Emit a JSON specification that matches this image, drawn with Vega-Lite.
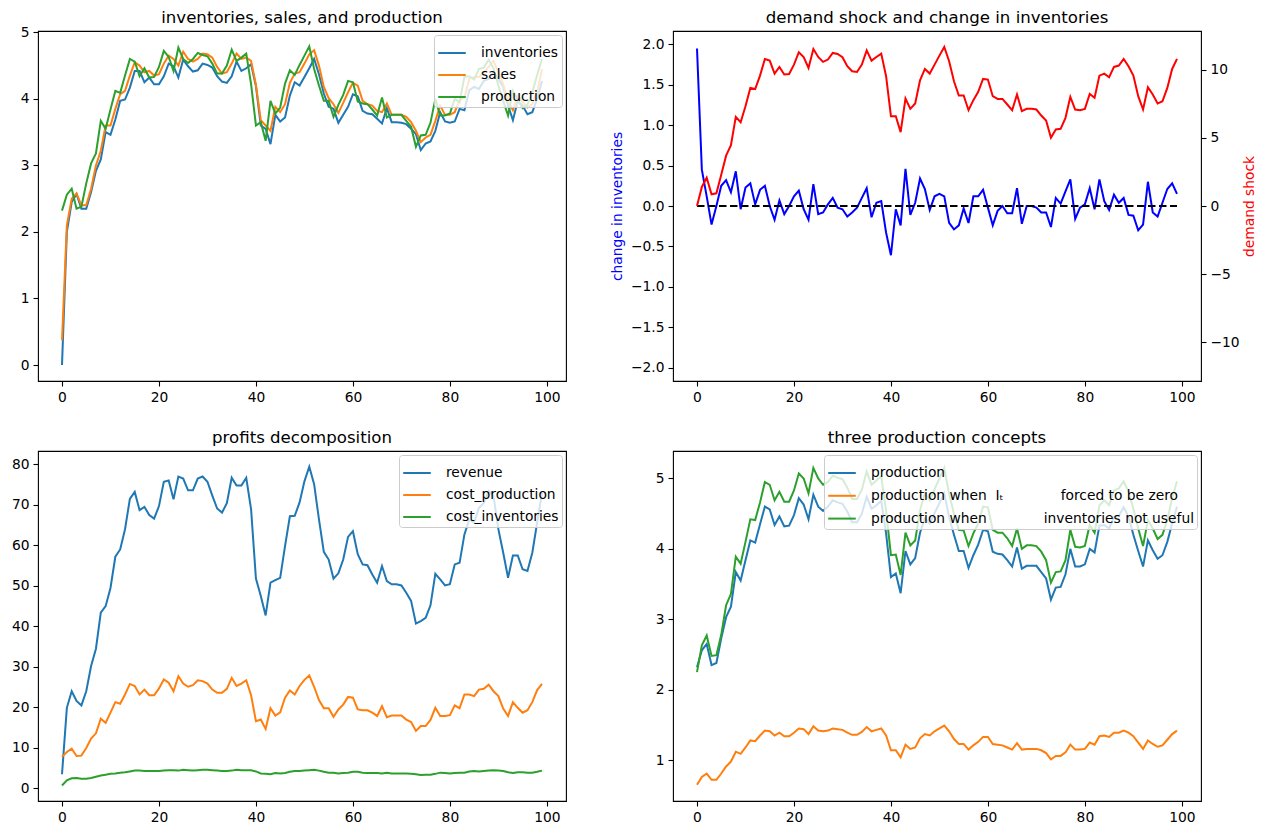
{
"$schema": "https://vega.github.io/schema/vega-lite/v6.json",
"background": "white",
"padding": {"left": 10, "top": 9, "right": 8, "bottom": 0},
"bounds": "flush",
"columns": 2,
"spacing": {"row": 70, "column": 107},
"resolve": {"scale": {"color": "independent"}, "legend": {"color": "independent"}},
"data": {"values": [
{"t":0,"inventories":0,"sales":0.37,"production":2.32,"dI":1.95,"shock":0,"revenue":3.5,"cost_production":7.8,"cost_inventories":0.74,"prod_zero":0.65,"prod_nouse":2.25},
{"t":1,"inventories":2.0,"sales":2.1,"production":2.56,"dI":0.45,"shock":1.4,"revenue":19.9,"cost_production":9.0,"cost_inventories":2.0,"prod_zero":0.76,"prod_nouse":2.63},
{"t":2,"inventories":2.45,"sales":2.5,"production":2.65,"dI":0.12,"shock":2.08,"revenue":24.0,"cost_production":9.8,"cost_inventories":2.5,"prod_zero":0.81,"prod_nouse":2.77},
{"t":3,"inventories":2.57,"sales":2.58,"production":2.35,"dI":-0.23,"shock":0.86,"revenue":21.6,"cost_production":8.0,"cost_inventories":2.6,"prod_zero":0.72,"prod_nouse":2.48},
{"t":4,"inventories":2.35,"sales":2.4,"production":2.38,"dI":0.0,"shock":0.93,"revenue":20.5,"cost_production":8.1,"cost_inventories":2.4,"prod_zero":0.72,"prod_nouse":2.49},
{"t":5,"inventories":2.35,"sales":2.4,"production":2.73,"dI":0.25,"shock":2.3,"revenue":24.0,"cost_production":10.0,"cost_inventories":2.4,"prod_zero":0.81,"prod_nouse":2.78},
{"t":6,"inventories":2.6,"sales":2.65,"production":3.03,"dI":0.32,"shock":3.7,"revenue":30.2,"cost_production":12.3,"cost_inventories":2.6,"prod_zero":0.91,"prod_nouse":3.2},
{"t":7,"inventories":2.92,"sales":3.0,"production":3.18,"dI":0.17,"shock":4.47,"revenue":34.5,"cost_production":13.6,"cost_inventories":2.9,"prod_zero":0.98,"prod_nouse":3.36},
{"t":8,"inventories":3.09,"sales":3.22,"production":3.67,"dI":0.43,"shock":6.55,"revenue":43.4,"cost_production":17.2,"cost_inventories":3.2,"prod_zero":1.12,"prod_nouse":3.89},
{"t":9,"inventories":3.5,"sales":3.6,"production":3.55,"dI":-0.04,"shock":6.16,"revenue":45.0,"cost_production":16.2,"cost_inventories":3.4,"prod_zero":1.09,"prod_nouse":3.79},
{"t":10,"inventories":3.46,"sales":3.6,"production":3.84,"dI":0.23,"shock":7.33,"revenue":49.5,"cost_production":18.7,"cost_inventories":3.6,"prod_zero":1.18,"prod_nouse":4.1},
{"t":11,"inventories":3.69,"sales":3.85,"production":4.12,"dI":0.28,"shock":8.68,"revenue":57.2,"cost_production":21.3,"cost_inventories":3.7,"prod_zero":1.28,"prod_nouse":4.42},
{"t":12,"inventories":3.97,"sales":4.07,"production":4.09,"dI":0.02,"shock":8.6,"revenue":59.0,"cost_production":20.9,"cost_inventories":3.9,"prod_zero":1.27,"prod_nouse":4.41},
{"t":13,"inventories":3.99,"sales":4.12,"production":4.35,"dI":0.2,"shock":9.58,"revenue":64.0,"cost_production":23.2,"cost_inventories":4.0,"prod_zero":1.35,"prod_nouse":4.66},
{"t":14,"inventories":4.17,"sales":4.35,"production":4.6,"dI":0.25,"shock":10.8,"revenue":71.5,"cost_production":25.8,"cost_inventories":4.2,"prod_zero":1.42,"prod_nouse":4.95},
{"t":15,"inventories":4.42,"sales":4.55,"production":4.56,"dI":0.0,"shock":10.68,"revenue":73.2,"cost_production":25.3,"cost_inventories":4.4,"prod_zero":1.41,"prod_nouse":4.91},
{"t":16,"inventories":4.42,"sales":4.5,"production":4.34,"dI":-0.17,"shock":9.73,"revenue":68.7,"cost_production":23.2,"cost_inventories":4.4,"prod_zero":1.35,"prod_nouse":4.69},
{"t":17,"inventories":4.25,"sales":4.4,"production":4.46,"dI":0.07,"shock":10.22,"revenue":69.5,"cost_production":24.4,"cost_inventories":4.3,"prod_zero":1.39,"prod_nouse":4.81},
{"t":18,"inventories":4.32,"sales":4.42,"production":4.32,"dI":-0.1,"shock":9.66,"revenue":67.5,"cost_production":23.0,"cost_inventories":4.3,"prod_zero":1.34,"prod_nouse":4.67},
{"t":19,"inventories":4.22,"sales":4.35,"production":4.33,"dI":0.0,"shock":9.7,"revenue":66.6,"cost_production":23.0,"cost_inventories":4.3,"prod_zero":1.34,"prod_nouse":4.67},
{"t":20,"inventories":4.22,"sales":4.37,"production":4.48,"dI":0.12,"shock":10.39,"revenue":69.7,"cost_production":24.7,"cost_inventories":4.3,"prod_zero":1.39,"prod_nouse":4.83},
{"t":21,"inventories":4.34,"sales":4.53,"production":4.72,"dI":0.19,"shock":11.3,"revenue":75.7,"cost_production":26.9,"cost_inventories":4.4,"prod_zero":1.45,"prod_nouse":5.07},
{"t":22,"inventories":4.53,"sales":4.65,"production":4.63,"dI":-0.04,"shock":10.95,"revenue":76.0,"cost_production":26.1,"cost_inventories":4.5,"prod_zero":1.44,"prod_nouse":5.0},
{"t":23,"inventories":4.49,"sales":4.6,"production":4.42,"dI":-0.17,"shock":10.15,"revenue":71.4,"cost_production":24.0,"cost_inventories":4.5,"prod_zero":1.37,"prod_nouse":4.79},
{"t":24,"inventories":4.32,"sales":4.5,"production":4.77,"dI":0.27,"shock":11.54,"revenue":77.0,"cost_production":27.7,"cost_inventories":4.4,"prod_zero":1.48,"prod_nouse":5.15},
{"t":25,"inventories":4.59,"sales":4.71,"production":4.6,"dI":-0.1,"shock":10.95,"revenue":76.5,"cost_production":25.9,"cost_inventories":4.6,"prod_zero":1.42,"prod_nouse":5.0},
{"t":26,"inventories":4.49,"sales":4.6,"production":4.54,"dI":-0.08,"shock":10.59,"revenue":73.6,"cost_production":25.1,"cost_inventories":4.5,"prod_zero":1.41,"prod_nouse":4.91},
{"t":27,"inventories":4.41,"sales":4.56,"production":4.6,"dI":0.02,"shock":10.76,"revenue":73.6,"cost_production":25.5,"cost_inventories":4.4,"prod_zero":1.42,"prod_nouse":4.95},
{"t":28,"inventories":4.43,"sales":4.6,"production":4.69,"dI":0.1,"shock":11.25,"revenue":76.5,"cost_production":26.7,"cost_inventories":4.5,"prod_zero":1.45,"prod_nouse":5.04},
{"t":29,"inventories":4.53,"sales":4.68,"production":4.66,"dI":-0.02,"shock":11.17,"revenue":77.0,"cost_production":26.5,"cost_inventories":4.6,"prod_zero":1.44,"prod_nouse":5.01},
{"t":30,"inventories":4.51,"sales":4.67,"production":4.64,"dI":-0.04,"shock":10.93,"revenue":75.7,"cost_production":25.9,"cost_inventories":4.6,"prod_zero":1.43,"prod_nouse":4.99},
{"t":31,"inventories":4.47,"sales":4.62,"production":4.53,"dI":-0.13,"shock":10.27,"revenue":72.3,"cost_production":24.4,"cost_inventories":4.5,"prod_zero":1.39,"prod_nouse":4.87},
{"t":32,"inventories":4.34,"sales":4.48,"production":4.38,"dI":-0.08,"shock":9.9,"revenue":69.1,"cost_production":23.6,"cost_inventories":4.4,"prod_zero":1.36,"prod_nouse":4.71},
{"t":33,"inventories":4.26,"sales":4.38,"production":4.38,"dI":-0.02,"shock":9.85,"revenue":68.1,"cost_production":23.6,"cost_inventories":4.3,"prod_zero":1.36,"prod_nouse":4.71},
{"t":34,"inventories":4.24,"sales":4.4,"production":4.5,"dI":0.1,"shock":10.39,"revenue":70.4,"cost_production":24.6,"cost_inventories":4.3,"prod_zero":1.4,"prod_nouse":4.84},
{"t":35,"inventories":4.34,"sales":4.53,"production":4.74,"dI":0.22,"shock":11.44,"revenue":76.7,"cost_production":27.3,"cost_inventories":4.4,"prod_zero":1.47,"prod_nouse":5.1},
{"t":36,"inventories":4.56,"sales":4.68,"production":4.57,"dI":-0.14,"shock":10.68,"revenue":74.8,"cost_production":25.3,"cost_inventories":4.6,"prod_zero":1.41,"prod_nouse":4.91},
{"t":37,"inventories":4.42,"sales":4.6,"production":4.62,"dI":0.04,"shock":10.95,"revenue":74.8,"cost_production":25.9,"cost_inventories":4.5,"prod_zero":1.43,"prod_nouse":4.97},
{"t":38,"inventories":4.46,"sales":4.62,"production":4.68,"dI":0.06,"shock":11.2,"revenue":76.7,"cost_production":26.7,"cost_inventories":4.5,"prod_zero":1.45,"prod_nouse":5.03},
{"t":39,"inventories":4.52,"sales":4.57,"production":4.22,"dI":-0.33,"shock":9.54,"revenue":68.9,"cost_production":23.0,"cost_inventories":4.5,"prod_zero":1.35,"prod_nouse":4.54},
{"t":40,"inventories":4.19,"sales":4.21,"production":3.6,"dI":-0.61,"shock":6.6,"revenue":51.8,"cost_production":16.6,"cost_inventories":4.2,"prod_zero":1.14,"prod_nouse":3.91},
{"t":41,"inventories":3.6,"sales":3.68,"production":3.65,"dI":-0.04,"shock":6.6,"revenue":47.5,"cost_production":17.0,"cost_inventories":3.7,"prod_zero":1.14,"prod_nouse":3.92},
{"t":42,"inventories":3.55,"sales":3.6,"production":3.37,"dI":-0.24,"shock":5.43,"revenue":42.7,"cost_production":14.7,"cost_inventories":3.6,"prod_zero":1.04,"prod_nouse":3.63},
{"t":43,"inventories":3.32,"sales":3.52,"production":3.97,"dI":0.46,"shock":7.9,"revenue":50.8,"cost_production":19.8,"cost_inventories":3.5,"prod_zero":1.22,"prod_nouse":4.23},
{"t":44,"inventories":3.76,"sales":3.88,"production":3.78,"dI":-0.11,"shock":7.14,"revenue":51.4,"cost_production":18.0,"cost_inventories":3.8,"prod_zero":1.16,"prod_nouse":4.05},
{"t":45,"inventories":3.66,"sales":3.8,"production":3.87,"dI":0.04,"shock":7.53,"revenue":52.0,"cost_production":18.8,"cost_inventories":3.7,"prod_zero":1.18,"prod_nouse":4.12},
{"t":46,"inventories":3.72,"sales":3.92,"production":4.23,"dI":0.34,"shock":9.24,"revenue":59.8,"cost_production":22.4,"cost_inventories":3.8,"prod_zero":1.31,"prod_nouse":4.55},
{"t":47,"inventories":4.05,"sales":4.24,"production":4.43,"dI":0.21,"shock":10.07,"revenue":67.2,"cost_production":24.2,"cost_inventories":4.1,"prod_zero":1.37,"prod_nouse":4.79},
{"t":48,"inventories":4.25,"sales":4.38,"production":4.36,"dI":-0.05,"shock":9.73,"revenue":67.3,"cost_production":23.2,"cost_inventories":4.3,"prod_zero":1.35,"prod_nouse":4.69},
{"t":49,"inventories":4.2,"sales":4.4,"production":4.51,"dI":0.12,"shock":10.39,"revenue":70.6,"cost_production":25.3,"cost_inventories":4.3,"prod_zero":1.41,"prod_nouse":4.85},
{"t":50,"inventories":4.33,"sales":4.53,"production":4.65,"dI":0.15,"shock":11.05,"revenue":75.8,"cost_production":26.8,"cost_inventories":4.4,"prod_zero":1.45,"prod_nouse":5.0},
{"t":51,"inventories":4.46,"sales":4.67,"production":4.79,"dI":0.12,"shock":11.69,"revenue":79.4,"cost_production":27.9,"cost_inventories":4.5,"prod_zero":1.49,"prod_nouse":5.15},
{"t":52,"inventories":4.6,"sales":4.73,"production":4.45,"dI":-0.21,"shock":10.64,"revenue":75.1,"cost_production":25.1,"cost_inventories":4.6,"prod_zero":1.41,"prod_nouse":4.78},
{"t":53,"inventories":4.37,"sales":4.5,"production":4.2,"dI":-0.29,"shock":9.17,"revenue":66.4,"cost_production":21.8,"cost_inventories":4.4,"prod_zero":1.3,"prod_nouse":4.5},
{"t":54,"inventories":4.08,"sales":4.18,"production":3.97,"dI":-0.24,"shock":8.12,"revenue":58.4,"cost_production":19.8,"cost_inventories":4.1,"prod_zero":1.23,"prod_nouse":4.27},
{"t":55,"inventories":3.88,"sales":4.01,"production":3.97,"dI":-0.03,"shock":8.12,"revenue":56.5,"cost_production":19.8,"cost_inventories":3.9,"prod_zero":1.23,"prod_nouse":4.26},
{"t":56,"inventories":3.85,"sales":3.92,"production":3.73,"dI":-0.21,"shock":7.04,"revenue":51.8,"cost_production":17.7,"cost_inventories":3.9,"prod_zero":1.15,"prod_nouse":4.04},
{"t":57,"inventories":3.64,"sales":3.79,"production":3.91,"dI":0.12,"shock":7.78,"revenue":53.1,"cost_production":19.5,"cost_inventories":3.7,"prod_zero":1.21,"prod_nouse":4.22},
{"t":58,"inventories":3.76,"sales":3.94,"production":4.06,"dI":0.12,"shock":8.39,"revenue":56.5,"cost_production":20.7,"cost_inventories":3.8,"prod_zero":1.26,"prod_nouse":4.36},
{"t":59,"inventories":3.88,"sales":4.1,"production":4.27,"dI":0.2,"shock":9.34,"revenue":62.1,"cost_production":22.6,"cost_inventories":3.9,"prod_zero":1.33,"prod_nouse":4.6},
{"t":60,"inventories":4.07,"sales":4.24,"production":4.25,"dI":-0.02,"shock":9.29,"revenue":63.5,"cost_production":22.4,"cost_inventories":4.1,"prod_zero":1.33,"prod_nouse":4.59},
{"t":61,"inventories":4.04,"sales":4.2,"production":3.96,"dI":-0.24,"shock":8.07,"revenue":57.8,"cost_production":19.5,"cost_inventories":4.1,"prod_zero":1.23,"prod_nouse":4.27},
{"t":62,"inventories":3.82,"sales":3.97,"production":3.93,"dI":-0.06,"shock":7.87,"revenue":55.3,"cost_production":19.3,"cost_inventories":3.9,"prod_zero":1.22,"prod_nouse":4.23},
{"t":63,"inventories":3.78,"sales":3.92,"production":3.92,"dI":0.0,"shock":7.87,"revenue":55.1,"cost_production":19.3,"cost_inventories":3.8,"prod_zero":1.21,"prod_nouse":4.23},
{"t":64,"inventories":3.77,"sales":3.9,"production":3.84,"dI":-0.09,"shock":7.46,"revenue":52.8,"cost_production":18.7,"cost_inventories":3.8,"prod_zero":1.18,"prod_nouse":4.15},
{"t":65,"inventories":3.7,"sales":3.82,"production":3.75,"dI":-0.09,"shock":7.04,"revenue":50.8,"cost_production":17.9,"cost_inventories":3.8,"prod_zero":1.15,"prod_nouse":4.04},
{"t":66,"inventories":3.63,"sales":3.8,"production":4.02,"dI":0.22,"shock":8.19,"revenue":54.9,"cost_production":20.3,"cost_inventories":3.7,"prod_zero":1.24,"prod_nouse":4.29},
{"t":67,"inventories":3.86,"sales":3.93,"production":3.72,"dI":-0.22,"shock":6.97,"revenue":51.2,"cost_production":17.6,"cost_inventories":3.9,"prod_zero":1.15,"prod_nouse":4.0},
{"t":68,"inventories":3.65,"sales":3.76,"production":3.76,"dI":0.0,"shock":7.14,"revenue":50.4,"cost_production":18.0,"cost_inventories":3.7,"prod_zero":1.16,"prod_nouse":4.05},
{"t":69,"inventories":3.65,"sales":3.76,"production":3.76,"dI":0.0,"shock":7.14,"revenue":50.4,"cost_production":18.0,"cost_inventories":3.7,"prod_zero":1.16,"prod_nouse":4.05},
{"t":70,"inventories":3.64,"sales":3.76,"production":3.76,"dI":-0.02,"shock":7.09,"revenue":50.1,"cost_production":18.0,"cost_inventories":3.7,"prod_zero":1.16,"prod_nouse":4.04},
{"t":71,"inventories":3.62,"sales":3.73,"production":3.67,"dI":-0.08,"shock":6.65,"revenue":48.3,"cost_production":17.0,"cost_inventories":3.7,"prod_zero":1.14,"prod_nouse":3.96},
{"t":72,"inventories":3.55,"sales":3.65,"production":3.58,"dI":-0.08,"shock":6.28,"revenue":46.3,"cost_production":16.4,"cost_inventories":3.6,"prod_zero":1.1,"prod_nouse":3.84},
{"t":73,"inventories":3.47,"sales":3.52,"production":3.28,"dI":-0.26,"shock":5.01,"revenue":40.7,"cost_production":14.2,"cost_inventories":3.5,"prod_zero":1.01,"prod_nouse":3.52},
{"t":74,"inventories":3.23,"sales":3.35,"production":3.45,"dI":0.1,"shock":5.62,"revenue":41.3,"cost_production":15.4,"cost_inventories":3.3,"prod_zero":1.06,"prod_nouse":3.67},
{"t":75,"inventories":3.33,"sales":3.42,"production":3.46,"dI":0.03,"shock":5.67,"revenue":42.1,"cost_production":15.4,"cost_inventories":3.4,"prod_zero":1.06,"prod_nouse":3.68},
{"t":76,"inventories":3.36,"sales":3.46,"production":3.64,"dI":0.18,"shock":6.48,"revenue":45.2,"cost_production":16.9,"cost_inventories":3.4,"prod_zero":1.11,"prod_nouse":3.84},
{"t":77,"inventories":3.52,"sales":3.67,"production":4.0,"dI":0.33,"shock":8.02,"revenue":53.0,"cost_production":19.9,"cost_inventories":3.6,"prod_zero":1.22,"prod_nouse":4.27},
{"t":78,"inventories":3.8,"sales":3.9,"production":3.75,"dI":-0.16,"shock":7.09,"revenue":51.6,"cost_production":17.9,"cost_inventories":3.9,"prod_zero":1.15,"prod_nouse":4.03},
{"t":79,"inventories":3.66,"sales":3.76,"production":3.75,"dI":-0.02,"shock":7.04,"revenue":50.1,"cost_production":17.9,"cost_inventories":3.8,"prod_zero":1.15,"prod_nouse":4.02},
{"t":80,"inventories":3.64,"sales":3.76,"production":3.78,"dI":0.02,"shock":7.14,"revenue":50.4,"cost_production":18.1,"cost_inventories":3.7,"prod_zero":1.16,"prod_nouse":4.04},
{"t":81,"inventories":3.66,"sales":3.8,"production":4.0,"dI":0.22,"shock":8.24,"revenue":55.3,"cost_production":20.5,"cost_inventories":3.8,"prod_zero":1.25,"prod_nouse":4.34},
{"t":82,"inventories":3.85,"sales":3.98,"production":3.95,"dI":-0.04,"shock":7.95,"revenue":55.7,"cost_production":19.8,"cost_inventories":3.9,"prod_zero":1.22,"prod_nouse":4.23},
{"t":83,"inventories":3.83,"sales":4.02,"production":4.33,"dI":0.33,"shock":9.58,"revenue":62.7,"cost_production":23.2,"cost_inventories":3.9,"prod_zero":1.34,"prod_nouse":4.62},
{"t":84,"inventories":4.13,"sales":4.3,"production":4.34,"dI":0.06,"shock":9.73,"revenue":66.4,"cost_production":23.2,"cost_inventories":4.2,"prod_zero":1.35,"prod_nouse":4.69},
{"t":85,"inventories":4.18,"sales":4.33,"production":4.29,"dI":-0.05,"shock":9.46,"revenue":65.6,"cost_production":22.8,"cost_inventories":4.3,"prod_zero":1.33,"prod_nouse":4.62},
{"t":86,"inventories":4.15,"sales":4.33,"production":4.45,"dI":0.14,"shock":10.22,"revenue":69.3,"cost_production":24.4,"cost_inventories":4.2,"prod_zero":1.39,"prod_nouse":4.83},
{"t":87,"inventories":4.27,"sales":4.4,"production":4.47,"dI":0.04,"shock":10.32,"revenue":70.5,"cost_production":24.6,"cost_inventories":4.3,"prod_zero":1.39,"prod_nouse":4.86},
{"t":88,"inventories":4.3,"sales":4.48,"production":4.59,"dI":0.1,"shock":10.81,"revenue":73.4,"cost_production":25.6,"cost_inventories":4.4,"prod_zero":1.42,"prod_nouse":4.96},
{"t":89,"inventories":4.4,"sales":4.57,"production":4.46,"dI":-0.11,"shock":10.27,"revenue":72.2,"cost_production":24.0,"cost_inventories":4.5,"prod_zero":1.39,"prod_nouse":4.81},
{"t":90,"inventories":4.3,"sales":4.4,"production":4.2,"dI":-0.12,"shock":9.58,"revenue":64.0,"cost_production":22.8,"cost_inventories":4.4,"prod_zero":1.34,"prod_nouse":4.57},
{"t":91,"inventories":4.18,"sales":4.22,"production":3.97,"dI":-0.3,"shock":8.07,"revenue":58.2,"cost_production":19.7,"cost_inventories":4.3,"prod_zero":1.25,"prod_nouse":4.29},
{"t":92,"inventories":3.9,"sales":3.97,"production":3.75,"dI":-0.23,"shock":7.09,"revenue":52.0,"cost_production":17.9,"cost_inventories":4.0,"prod_zero":1.16,"prod_nouse":4.04},
{"t":93,"inventories":3.68,"sales":3.83,"production":4.12,"dI":0.3,"shock":8.73,"revenue":57.5,"cost_production":21.3,"cost_inventories":3.8,"prod_zero":1.28,"prod_nouse":4.41},
{"t":94,"inventories":3.97,"sales":4.05,"production":3.98,"dI":-0.08,"shock":8.19,"revenue":57.5,"cost_production":19.9,"cost_inventories":4.0,"prod_zero":1.23,"prod_nouse":4.29},
{"t":95,"inventories":3.9,"sales":3.95,"production":3.86,"dI":-0.13,"shock":7.53,"revenue":54.1,"cost_production":18.7,"cost_inventories":4.0,"prod_zero":1.19,"prod_nouse":4.14},
{"t":96,"inventories":3.77,"sales":3.87,"production":3.91,"dI":0.04,"shock":7.7,"revenue":53.7,"cost_production":19.3,"cost_inventories":3.9,"prod_zero":1.21,"prod_nouse":4.2},
{"t":97,"inventories":3.8,"sales":3.92,"production":4.1,"dI":0.21,"shock":8.68,"revenue":58.2,"cost_production":21.3,"cost_inventories":3.9,"prod_zero":1.29,"prod_nouse":4.41},
{"t":98,"inventories":4.0,"sales":4.1,"production":4.36,"dI":0.28,"shock":10.07,"revenue":65.6,"cost_production":24.3,"cost_inventories":4.1,"prod_zero":1.37,"prod_nouse":4.72},
{"t":99,"inventories":4.27,"sales":4.45,"production":4.6,"dI":0.15,"shock":10.81,"revenue":73.0,"cost_production":25.8,"cost_inventories":4.4,"prod_zero":1.42,"prod_nouse":4.96}
]},
"concat": [
{
 "title": {"text": "inventories, sales, and production", "offset": -1},
 "width": 528, "height": 350,
 "transform": [{"fold": ["inventories", "sales", "production"], "as": ["series", "value"]}],
 "mark": {"type": "line", "strokeWidth": 2},
 "encoding": {
  "x": {"field": "t", "type": "quantitative", "scale": {"domain": [-4.95, 103.95], "nice": false, "zero": false}, "axis": {"values": [0, 20, 40, 60, 80, 100], "title": null}},
  "y": {"field": "value", "type": "quantitative", "scale": {"domain": [-0.24, 5.02], "nice": false, "zero": false}, "axis": {"values": [0, 1, 2, 3, 4, 5], "format": "d", "title": null}},
  "color": {"field": "series", "type": "nominal", "scale": {"domain": ["inventories", "sales", "production"], "range": ["#1f77b4", "#ff7f0e", "#2ca02c"]}, "legend": {"title": null}}
 }
},
{
 "title": {"text": "demand shock and change in inventories", "offset": 4},
 "width": 528, "height": 350,
 "layer": [
  {
   "mark": {"type": "line", "color": "blue", "strokeWidth": 2},
   "encoding": {
    "x": {"field": "t", "type": "quantitative", "scale": {"domain": [-4.95, 103.95], "nice": false, "zero": false}, "axis": {"values": [0, 20, 40, 60, 80, 100], "title": null}},
    "y": {"field": "dI", "type": "quantitative", "scale": {"domain": [-2.167, 2.167], "nice": false, "zero": false}, "axis": {"values": [-2, -1.5, -1, -0.5, 0, 0.5, 1, 1.5, 2], "format": ".1f", "title": "change in inventories", "titleColor": "blue"}}
   }
  },
  {
   "mark": {"type": "line", "color": "black", "strokeWidth": 2, "strokeDash": [7.5, 3.5]},
   "encoding": {
    "x": {"field": "t", "type": "quantitative"},
    "y": {"datum": 0, "type": "quantitative", "scale": {"domain": [-2.167, 2.167], "nice": false, "zero": false}, "axis": null}
   }
  },
  {
   "mark": {"type": "line", "color": "red", "strokeWidth": 2},
   "encoding": {
    "x": {"field": "t", "type": "quantitative"},
    "y": {"field": "shock", "type": "quantitative", "scale": {"domain": [-12.86, 12.86], "nice": false, "zero": false}, "axis": {"orient": "right", "values": [-10, -5, 0, 5, 10], "format": "d", "title": "demand shock", "titleColor": "red", "titleAngle": 270, "titlePadding": 17}}
   }
  }
 ],
 "resolve": {"scale": {"y": "independent"}}
},
{
 "title": {"text": "profits decomposition", "offset": 4},
 "width": 528, "height": 350,
 "transform": [{"fold": ["revenue", "cost_production", "cost_inventories"], "as": ["series", "value"]}],
 "mark": {"type": "line", "strokeWidth": 2},
 "encoding": {
  "x": {"field": "t", "type": "quantitative", "scale": {"domain": [-4.95, 103.95], "nice": false, "zero": false}, "axis": {"values": [0, 20, 40, 60, 80, 100], "title": null}},
  "y": {"field": "value", "type": "quantitative", "scale": {"domain": [-3.1, 83.3], "nice": false, "zero": false}, "axis": {"values": [0, 10, 20, 30, 40, 50, 60, 70, 80], "format": "d", "title": null}},
  "color": {"field": "series", "type": "nominal", "scale": {"domain": ["revenue", "cost_production", "cost_inventories"], "range": ["#1f77b4", "#ff7f0e", "#2ca02c"]}, "legend": {"title": null}}
 }
},
{
 "title": {"text": "three production concepts", "offset": 4},
 "width": 528, "height": 350,
 "transform": [{"fold": ["production", "prod_zero", "prod_nouse"], "as": ["series", "value"]}],
 "mark": {"type": "line", "strokeWidth": 2},
 "encoding": {
  "x": {"field": "t", "type": "quantitative", "scale": {"domain": [-4.95, 103.95], "nice": false, "zero": false}, "axis": {"values": [0, 20, 40, 60, 80, 100], "title": null}},
  "y": {"field": "value", "type": "quantitative", "scale": {"domain": [0.42, 5.39], "nice": false, "zero": false}, "axis": {"values": [1, 2, 3, 4, 5], "format": "d", "title": null}},
  "color": {"field": "series", "type": "nominal", "scale": {"domain": ["production", "prod_zero", "prod_nouse"], "range": ["#1f77b4", "#ff7f0e", "#2ca02c"]}, "legend": {"title": null, "rowPadding": 0.8, "labelExpr": "datum.value == 'production' ? 'production' : datum.value == 'prod_zero' ? 'production when \u00a0Iₜ\u00a0\u00a0\u00a0\u00a0\u00a0\u00a0\u00a0\u00a0\u00a0\u00a0\u00a0\u00a0\u00a0forced to be zero' : 'production when\u00a0\u00a0\u00a0\u00a0\u00a0\u00a0\u00a0\u00a0\u00a0\u00a0\u00a0\u00a0\u00a0inventories not useful'"}}
 }
}
],
"config": {
 "font": "DejaVu Sans",
 "view": {"stroke": "black", "strokeWidth": 1.1},
 "axis": {"grid": false, "domain": false, "tickColor": "black", "tickSize": 5, "tickWidth": 1.1, "labelFontSize": 13.8, "labelColor": "black", "labelPadding": 4, "titleFontSize": 13.8, "titleFontWeight": "normal", "titlePadding": 6, "labelFlush": false, "labelOverlap": false, "labelFont": "DejaVu Sans", "titleFont": "DejaVu Sans"},
 "title": {"fontSize": 16.6, "fontWeight": "normal", "color": "black", "offset": -1, "frame": "group", "baseline": "alphabetic", "font": "DejaVu Sans"},
 "legend": {"orient": "top-right", "offset": 4, "fillColor": "rgba(255,255,255,0.8)", "strokeColor": "#cccccc", "strokeWidth": 1, "cornerRadius": 3, "padding": 3, "symbolType": "stroke", "symbolStrokeWidth": 2, "symbolSize": 760, "labelFontSize": 13.8, "labelColor": "black", "labelFont": "DejaVu Sans", "rowPadding": 0, "labelOffset": 14, "labelLimit": 600}
}
}
